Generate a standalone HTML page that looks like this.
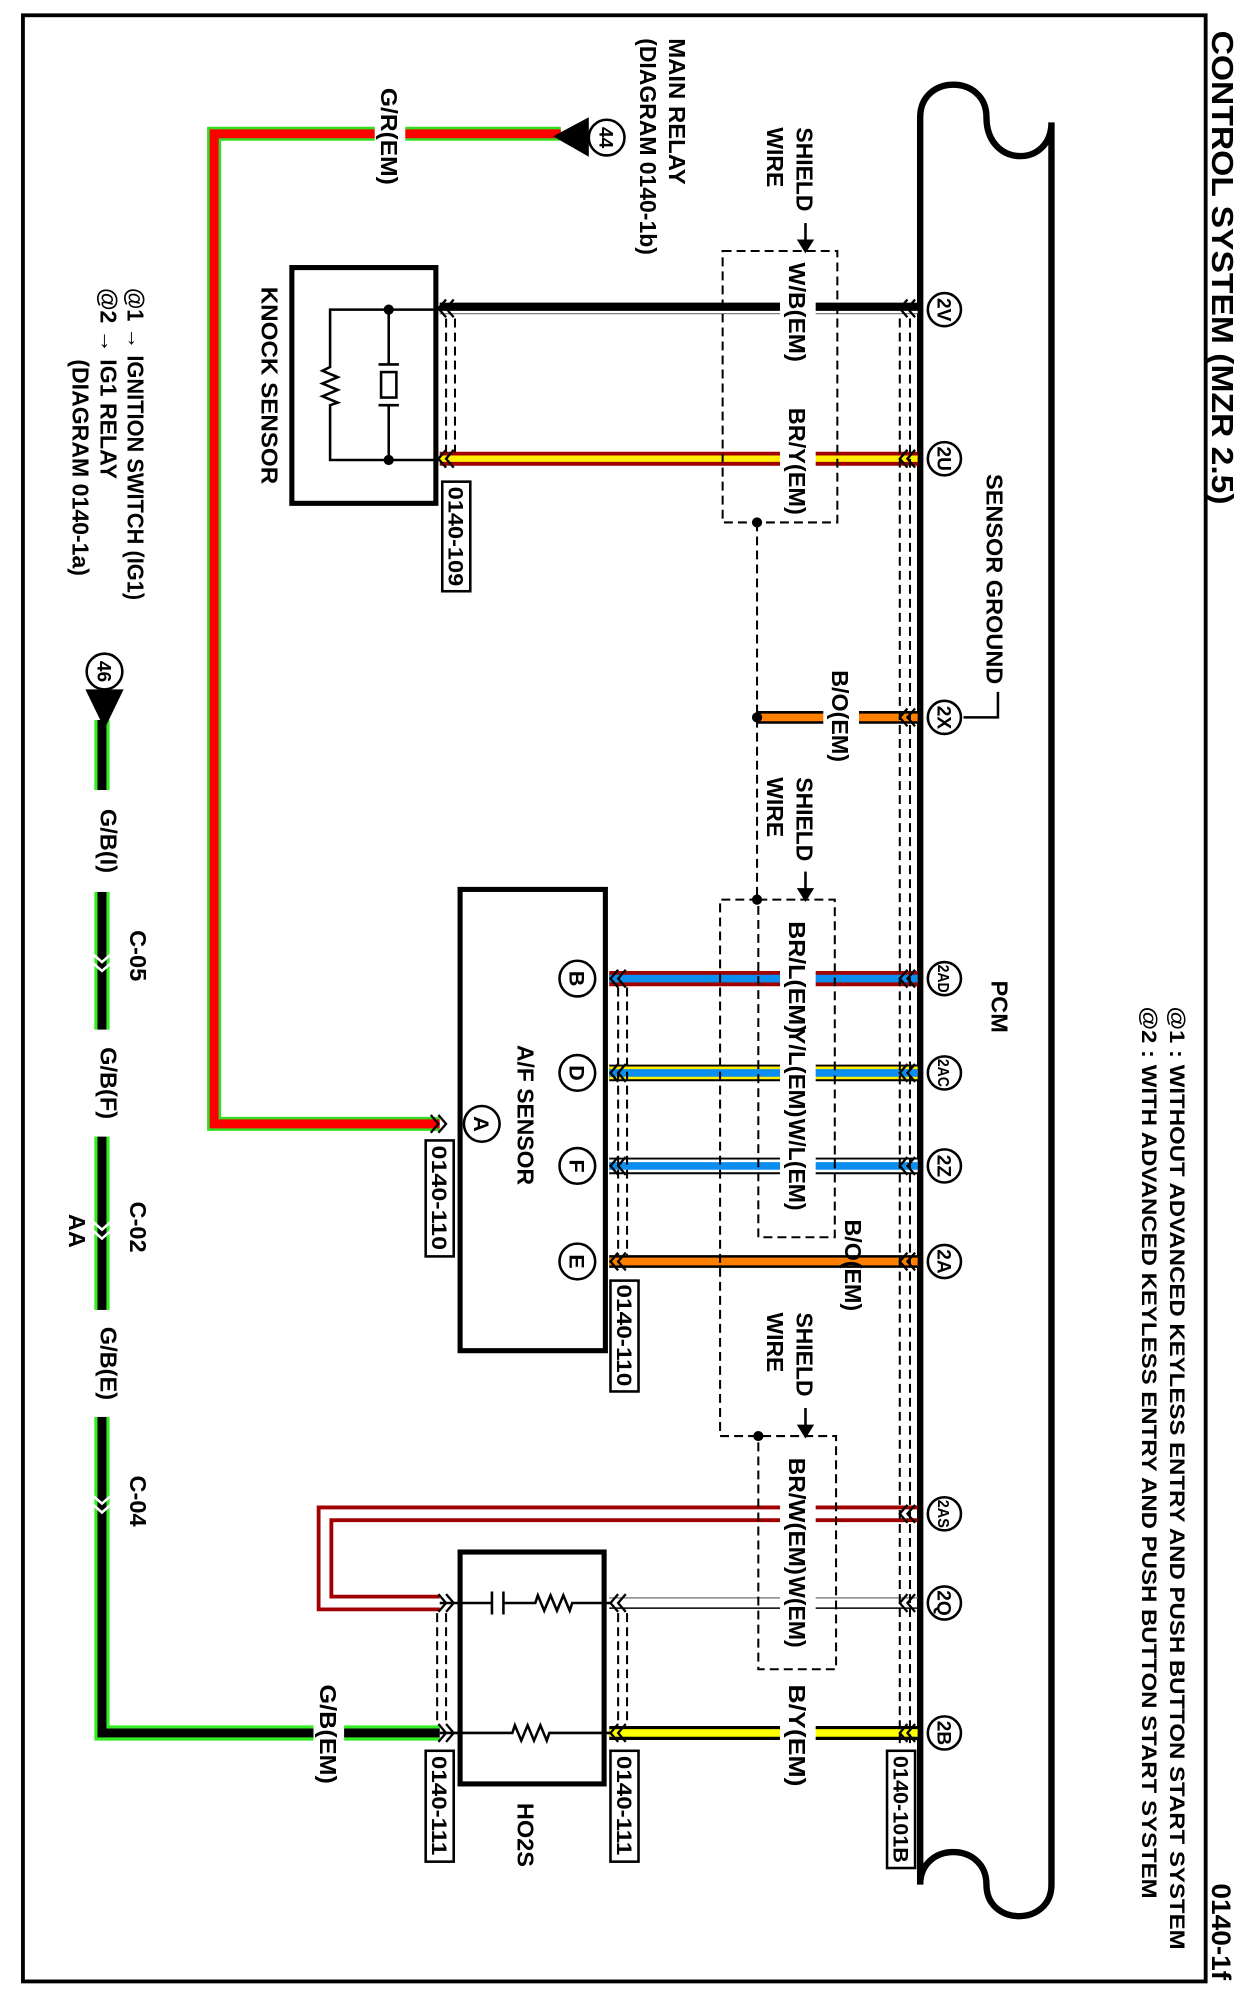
<!DOCTYPE html>
<html><head><meta charset="utf-8"><style>
html,body{margin:0;padding:0;background:#fff;}
svg{display:block;}
text{font-family:"Liberation Sans",Arial,sans-serif;font-weight:bold;fill:#000;}
</style></head><body>
<svg width="1249" height="1998" viewBox="0 0 980 1568" preserveAspectRatio="none" xmlns="http://www.w3.org/2000/svg">
<rect x="0" y="0" width="980" height="1568" fill="#fff"/>
<rect x="18" y="12" width="928" height="1543" fill="none" stroke="#000" stroke-width="3"/>

<!-- PCM shape -->
<path d="M722,1479 L722,92 C722,58 774,58 774,92 C774,132 825,132 825,96 L825,1479 C825,1512 774,1512 774,1479 C774,1445 722,1445 722,1479" fill="none" stroke="#000" stroke-width="5"/>

<!-- G/R wire -->
<path d="M440,105 L168,105 L168,882 L345,882" fill="none" stroke="#33dd22" stroke-width="11"/>
<path d="M440,105 L168,105 L168,882 L345,882" fill="none" stroke="#ff0000" stroke-width="7"/>
<!-- G/B wire -->
<path d="M345,1360 L80,1360 L80,565" fill="none" stroke="#33ee22" stroke-width="12"/>
<path d="M345,1360 L80,1360 L80,565" fill="none" stroke="#000" stroke-width="7"/>

<!-- 2V W/B -->
<line x1="345" y1="242" x2="720" y2="242" stroke="#000" stroke-width="9"/>
<line x1="345" y1="245" x2="720" y2="245" stroke="#fff" stroke-width="2"/>
<!-- 2U BR/Y -->
<line x1="345" y1="360" x2="720" y2="360" stroke="#a00000" stroke-width="11"/>
<line x1="345" y1="360" x2="720" y2="360" stroke="#ffee00" stroke-width="5"/>
<!-- 2X B/O -->
<line x1="594" y1="563" x2="720" y2="563" stroke="#000" stroke-width="10"/>
<line x1="594" y1="563" x2="720" y2="563" stroke="#ff8000" stroke-width="6"/>
<!-- 2AD -->
<line x1="478" y1="768" x2="720" y2="768" stroke="#a00000" stroke-width="12"/>
<line x1="478" y1="768" x2="720" y2="768" stroke="#0a8ef0" stroke-width="6"/>
<!-- 2AC -->
<line x1="478" y1="842" x2="720" y2="842" stroke="#000" stroke-width="13"/>
<line x1="478" y1="842" x2="720" y2="842" stroke="#ffee00" stroke-width="10"/>
<line x1="478" y1="842" x2="720" y2="842" stroke="#0a8ef0" stroke-width="6"/>
<!-- 2Z -->
<line x1="478" y1="915" x2="720" y2="915" stroke="#000" stroke-width="13"/>
<line x1="478" y1="915" x2="720" y2="915" stroke="#fff" stroke-width="10"/>
<line x1="478" y1="915" x2="720" y2="915" stroke="#0a8ef0" stroke-width="6"/>
<!-- 2A -->
<line x1="478" y1="990" x2="720" y2="990" stroke="#000" stroke-width="10"/>
<line x1="478" y1="990" x2="720" y2="990" stroke="#ff8000" stroke-width="6"/>
<!-- 2AS BR/W -->
<path d="M720,1183 L250,1183 L250,1263 L345,1263" fill="none" stroke="#a00000" stroke-width="3"/>
<path d="M720,1193 L260,1193 L260,1253 L345,1253" fill="none" stroke="#a00000" stroke-width="3"/>
<!-- 2Q W -->
<line x1="478" y1="1254" x2="720" y2="1254" stroke="#888" stroke-width="1.2"/>
<line x1="478" y1="1262" x2="720" y2="1262" stroke="#000" stroke-width="1.2"/>
<!-- 2B B/Y -->
<line x1="478" y1="1360" x2="720" y2="1360" stroke="#000" stroke-width="11"/>
<line x1="478" y1="1360" x2="720" y2="1360" stroke="#ffff00" stroke-width="6"/>

<!-- label background breaks -->
<g fill="#fff">
<rect x="612" y="203" width="28" height="84"/>
<rect x="612" y="318" width="28" height="90"/>
<rect x="612" y="720" width="28" height="94"/>
<rect x="612" y="805" width="28" height="74"/>
<rect x="612" y="876" width="28" height="76"/>
<rect x="612" y="1141" width="28" height="98"/>
<rect x="612" y="1236" width="28" height="58"/>
<rect x="612" y="1318" width="28" height="86"/>
<rect x="646" y="524" width="28" height="76"/>
<rect x="70" y="620" width="28" height="80"/>
<rect x="70" y="808" width="28" height="84"/>
<rect x="70" y="1028" width="28" height="84"/>
<rect x="294" y="67" width="24" height="80"/>
<rect x="246" y="1320" width="24" height="82"/>
</g>

<!-- shield dashed -->
<g fill="none" stroke="#000" stroke-width="1.6" stroke-dasharray="7,4">
<rect x="567" y="197" width="90" height="213"/>
<line x1="594" y1="410" x2="594" y2="706"/>
<rect x="595" y="706" width="60" height="265"/>
<path d="M595,706 L565,706 L565,1127 L656,1127 L656,1310 L595,1310 L595,1127"/>
<line x1="706" y1="250" x2="706" y2="1368"/>
<line x1="714" y1="250" x2="714" y2="1368"/>
<line x1="350" y1="250" x2="350" y2="355"/>
<line x1="357" y1="250" x2="357" y2="355"/>
<line x1="485" y1="775" x2="485" y2="985"/>
<line x1="492" y1="775" x2="492" y2="985"/>
<line x1="343" y1="1266" x2="343" y2="1354"/>
<line x1="350" y1="1266" x2="350" y2="1354"/>
<line x1="485" y1="1266" x2="485" y2="1354"/>
<line x1="492" y1="1266" x2="492" y2="1354"/>
</g>
<g fill="#000">
<circle cx="594" cy="410" r="4"/>
<circle cx="594" cy="563" r="4"/>
<circle cx="594" cy="706" r="4"/>
<circle cx="595" cy="1127" r="4"/>
</g>
<!-- shield arrows -->
<g stroke="#000" stroke-width="2" fill="#000">
<line x1="632" y1="175" x2="632" y2="190"/><path d="M627,189 L637,189 L632,197 Z"/>
<line x1="632" y1="684" x2="632" y2="699"/><path d="M627,698 L637,698 L632,706 Z"/>
<line x1="632" y1="1105" x2="632" y2="1120"/><path d="M627,1119 L637,1119 L632,1127 Z"/>
</g>
<path d="M783,543 L783,563 L756,563" fill="none" stroke="#000" stroke-width="2"/>

<!-- chevrons -->
<g fill="none" stroke="#000" stroke-width="1.8">
<path d="M712,235 L706,242 L712,249 M718,235 L712,242 L718,249"/>
<path d="M712,353 L706,360 L712,367 M718,353 L712,360 L718,367"/>
<path d="M712,556 L706,563 L712,570 M718,556 L712,563 L718,570"/>
<path d="M712,761 L706,768 L712,775 M718,761 L712,768 L718,775"/>
<path d="M712,835 L706,842 L712,849 M718,835 L712,842 L718,849"/>
<path d="M712,908 L706,915 L712,922 M718,908 L712,915 L718,922"/>
<path d="M712,983 L706,990 L712,997 M718,983 L712,990 L718,997"/>
<path d="M712,1181 L706,1188 L712,1195 M718,1181 L712,1188 L718,1195"/>
<path d="M712,1251 L706,1258 L712,1265 M718,1251 L712,1258 L718,1265"/>
<path d="M712,1353 L706,1360 L712,1367 M718,1353 L712,1360 L718,1367"/>
<path d="M350,235 L344,242 L350,249 M356,235 L350,242 L356,249"/>
<path d="M350,353 L344,360 L350,367 M356,353 L350,360 L356,367"/>
<path d="M485,761 L479,768 L485,775 M491,761 L485,768 L491,775"/>
<path d="M485,835 L479,842 L485,849 M491,835 L485,842 L491,849"/>
<path d="M485,908 L479,915 L485,922 M491,908 L485,915 L491,922"/>
<path d="M485,983 L479,990 L485,997 M491,983 L485,990 L491,997"/>
<path d="M485,1251 L479,1258 L485,1265 M491,1251 L485,1258 L491,1265"/>
<path d="M485,1353 L479,1360 L485,1367 M491,1353 L485,1360 L491,1367"/>
<path d="M344,875 L350,882 L344,889 M338,875 L344,882 L338,889"/>
<path d="M350,1251 L356,1258 L350,1265 M344,1251 L350,1258 L344,1265"/>
<path d="M350,1353 L356,1360 L350,1367 M344,1353 L350,1360 L344,1367"/>
</g>
<g fill="none" stroke="#fff" stroke-width="2">
<path d="M72,748 L80,755 L88,748 M72,755 L80,762 L88,755"/>
<path d="M72,958 L80,965 L88,958 M72,965 L80,972 L88,965"/>
<path d="M72,1173 L80,1180 L88,1173 M72,1180 L80,1187 L88,1180"/>
</g>

<!-- pins -->
<g fill="#fff" stroke="#000" stroke-width="2">
<circle cx="741" cy="243" r="13"/><circle cx="741" cy="360" r="13"/><circle cx="741" cy="563" r="13"/>
<circle cx="741" cy="768" r="13"/><circle cx="741" cy="842" r="13"/><circle cx="741" cy="915" r="13"/>
<circle cx="741" cy="990" r="13"/><circle cx="741" cy="1188" r="13"/><circle cx="741" cy="1258" r="13"/>
<circle cx="741" cy="1360" r="13"/>
<circle cx="378" cy="882" r="14"/><circle cx="453" cy="768" r="14"/><circle cx="453" cy="842" r="14"/>
<circle cx="453" cy="915" r="14"/><circle cx="453" cy="990" r="14"/>
<circle cx="476" cy="108" r="14"/><circle cx="82" cy="527" r="14"/>
</g>
<path d="M462,92 L462,123 L434,107 Z" fill="#000"/>
<path d="M67,541 L97,541 L82,572 Z" fill="#000"/>

<!-- boxes -->
<g fill="none" stroke="#000" stroke-width="4">
<rect x="229" y="210" width="113" height="185"/>
<rect x="361" y="698" width="114" height="362"/>
<rect x="361" y="1218" width="113" height="182"/>
</g>
<!-- internals -->
<g fill="none" stroke="#000" stroke-width="2">
<path d="M345,243 L259,243 L259,288 l-6,3 l12,5 l-12,5 l12,5 l-12,5 l12,5 l-6,2 L259,361 L345,361"/>
<path d="M305,243 L305,286 M297,286 L313,286 M297,318 L313,318 M305,318 L305,361"/>
<rect x="299" y="292" width="12" height="20"/>
<path d="M345,1258 L386,1258 M386,1249 L386,1267 M395,1249 L395,1267 M395,1258 L420,1258 l2,-6 l5,12 l5,-12 l5,12 l5,-12 l5,12 l2,-6 L480,1258"/>
<path d="M345,1360 L402,1360 l2,-6 l5,12 l5,-12 l5,12 l5,-12 l5,12 l2,-6 L480,1360"/>
</g>
<g fill="#000"><circle cx="305" cy="243" r="4"/><circle cx="305" cy="361" r="4"/></g>

<!-- boxed labels -->
<g fill="#fff" stroke="#000" stroke-width="2">
<rect x="347" y="378" width="22" height="86"/>
<rect x="334" y="895" width="22" height="91"/>
<rect x="479" y="1005" width="22" height="87"/>
<rect x="334" y="1374" width="22" height="87"/>
<rect x="479" y="1374" width="22" height="87"/>
<rect x="696" y="1374" width="22" height="92"/>
</g>

<g font-size="17" text-anchor="middle">
<text transform="translate(352,421) rotate(90)" textLength="78" lengthAdjust="spacingAndGlyphs">0140-109</text>
<text transform="translate(339,940) rotate(90)" textLength="82" lengthAdjust="spacingAndGlyphs">0140-110</text>
<text transform="translate(484,1048) rotate(90)" textLength="80" lengthAdjust="spacingAndGlyphs">0140-110</text>
<text transform="translate(339,1417) rotate(90)" textLength="78" lengthAdjust="spacingAndGlyphs">0140-111</text>
<text transform="translate(484,1417) rotate(90)" textLength="78" lengthAdjust="spacingAndGlyphs">0140-111</text>
<text transform="translate(701,1420) rotate(90)" textLength="84" lengthAdjust="spacingAndGlyphs">0140-101B</text>
</g>
<g font-size="18.5" text-anchor="middle">
<text transform="translate(619,245) rotate(90)" textLength="78" lengthAdjust="spacingAndGlyphs">W/B(EM)</text>
<text transform="translate(619,362) rotate(90)" textLength="84" lengthAdjust="spacingAndGlyphs">BR/Y(EM)</text>
<text transform="translate(653,562) rotate(90)" textLength="72" lengthAdjust="spacingAndGlyphs">B/O(EM)</text>
<text transform="translate(619,767) rotate(90)" textLength="88" lengthAdjust="spacingAndGlyphs">BR/L(EM)</text>
<text transform="translate(619,842) rotate(90)" textLength="70" lengthAdjust="spacingAndGlyphs">Y/L(EM)</text>
<text transform="translate(619,914) rotate(90)" textLength="72" lengthAdjust="spacingAndGlyphs">W/L(EM)</text>
<text transform="translate(663,993) rotate(90)" textLength="72" lengthAdjust="spacingAndGlyphs">B/O(EM)</text>
<text transform="translate(619,1190) rotate(90)" textLength="92" lengthAdjust="spacingAndGlyphs">BR/W(EM)</text>
<text transform="translate(619,1265) rotate(90)" textLength="56" lengthAdjust="spacingAndGlyphs">W(EM)</text>
<text transform="translate(619,1362) rotate(90)" textLength="80" lengthAdjust="spacingAndGlyphs">B/Y(EM)</text>
<text transform="translate(299,107) rotate(90)" textLength="76" lengthAdjust="spacingAndGlyphs">G/R(EM)</text>
<text transform="translate(251,1361) rotate(90)" textLength="78" lengthAdjust="spacingAndGlyphs">G/B(EM)</text>
<text transform="translate(778,790) rotate(90)">PCM</text>
<text transform="translate(406,875) rotate(90)" textLength="110" lengthAdjust="spacingAndGlyphs">A/F SENSOR</text>
<text transform="translate(406,1440) rotate(90)">HO2S</text>
<text transform="translate(79,660) rotate(90)">G/B(I)</text>
<text transform="translate(79,850) rotate(90)">G/B(F)</text>
<text transform="translate(79,1070) rotate(90)">G/B(E)</text>
<text transform="translate(102,750) rotate(90)">C-05</text>
<text transform="translate(102,963) rotate(90)">C-02</text>
<text transform="translate(102,1178) rotate(90)">C-04</text>
<text transform="translate(54,966) rotate(90)">AA</text>
</g>
<g font-size="15" text-anchor="middle">
<text transform="translate(735.5,243) rotate(90)">2V</text>
<text transform="translate(735.5,360) rotate(90)">2U</text>
<text transform="translate(735.5,563) rotate(90)">2X</text>
<text transform="translate(736,768) rotate(90)" font-size="12" textLength="22" lengthAdjust="spacingAndGlyphs">2AD</text>
<text transform="translate(736,842) rotate(90)" font-size="12" textLength="22" lengthAdjust="spacingAndGlyphs">2AC</text>
<text transform="translate(735.5,915) rotate(90)">2Z</text>
<text transform="translate(735.5,990) rotate(90)">2A</text>
<text transform="translate(736,1188) rotate(90)" font-size="12" textLength="22" lengthAdjust="spacingAndGlyphs">2AS</text>
<text transform="translate(735.5,1258) rotate(90)">2Q</text>
<text transform="translate(735.5,1360) rotate(90)">2B</text>
<text transform="translate(372,882) rotate(90)" font-size="17">A</text>
<text transform="translate(447,768) rotate(90)" font-size="17">B</text>
<text transform="translate(447,842) rotate(90)" font-size="17">D</text>
<text transform="translate(447,915) rotate(90)" font-size="17">F</text>
<text transform="translate(447,990) rotate(90)" font-size="17">E</text>
<text transform="translate(470.5,108) rotate(90)">44</text>
<text transform="translate(76.5,527) rotate(90)">46</text>
</g>
<g font-size="18">
<text transform="translate(625,100) rotate(90)">SHIELD</text>
<text transform="translate(602,100) rotate(90)">WIRE</text>
<text transform="translate(625,610) rotate(90)">SHIELD</text>
<text transform="translate(602,610) rotate(90)">WIRE</text>
<text transform="translate(625,1030) rotate(90)">SHIELD</text>
<text transform="translate(602,1030) rotate(90)">WIRE</text>
<text transform="translate(774,372) rotate(90)" textLength="165" lengthAdjust="spacingAndGlyphs">SENSOR GROUND</text>
<text transform="translate(918,790) rotate(90)" textLength="740" lengthAdjust="spacingAndGlyphs" font-size="17">@1 : WITHOUT ADVANCED KEYLESS ENTRY AND PUSH BUTTON START SYSTEM</text>
<text transform="translate(896,790) rotate(90)" textLength="700" lengthAdjust="spacingAndGlyphs" font-size="17">@2 : WITH ADVANCED KEYLESS ENTRY AND PUSH BUTTON START SYSTEM</text>
<text transform="translate(525,30) rotate(90)" textLength="115" lengthAdjust="spacingAndGlyphs">MAIN RELAY</text>
<text transform="translate(502,30) rotate(90)" textLength="170" lengthAdjust="spacingAndGlyphs">(DIAGRAM 0140-1b)</text>
<text transform="translate(205,225) rotate(90)" textLength="155" lengthAdjust="spacingAndGlyphs">KNOCK SENSOR</text>
<text transform="translate(100,226) rotate(90)" textLength="245" lengthAdjust="spacingAndGlyphs">@1 → IGNITION SWITCH (IG1)</text>
<text transform="translate(79,226) rotate(90)" textLength="150" lengthAdjust="spacingAndGlyphs">@2 → IG1 RELAY</text>
<text transform="translate(57,282) rotate(90)" textLength="170" lengthAdjust="spacingAndGlyphs">(DIAGRAM 0140-1a)</text>
</g>
<text transform="translate(951,24) rotate(90)" font-size="24" font-weight="normal" textLength="372" lengthAdjust="spacingAndGlyphs">CONTROL SYSTEM (MZR 2.5)</text>
<text transform="translate(951,1478) rotate(90)" font-size="21" font-weight="normal" textLength="76" lengthAdjust="spacingAndGlyphs">0140-1f</text>
</svg>
</body></html>
